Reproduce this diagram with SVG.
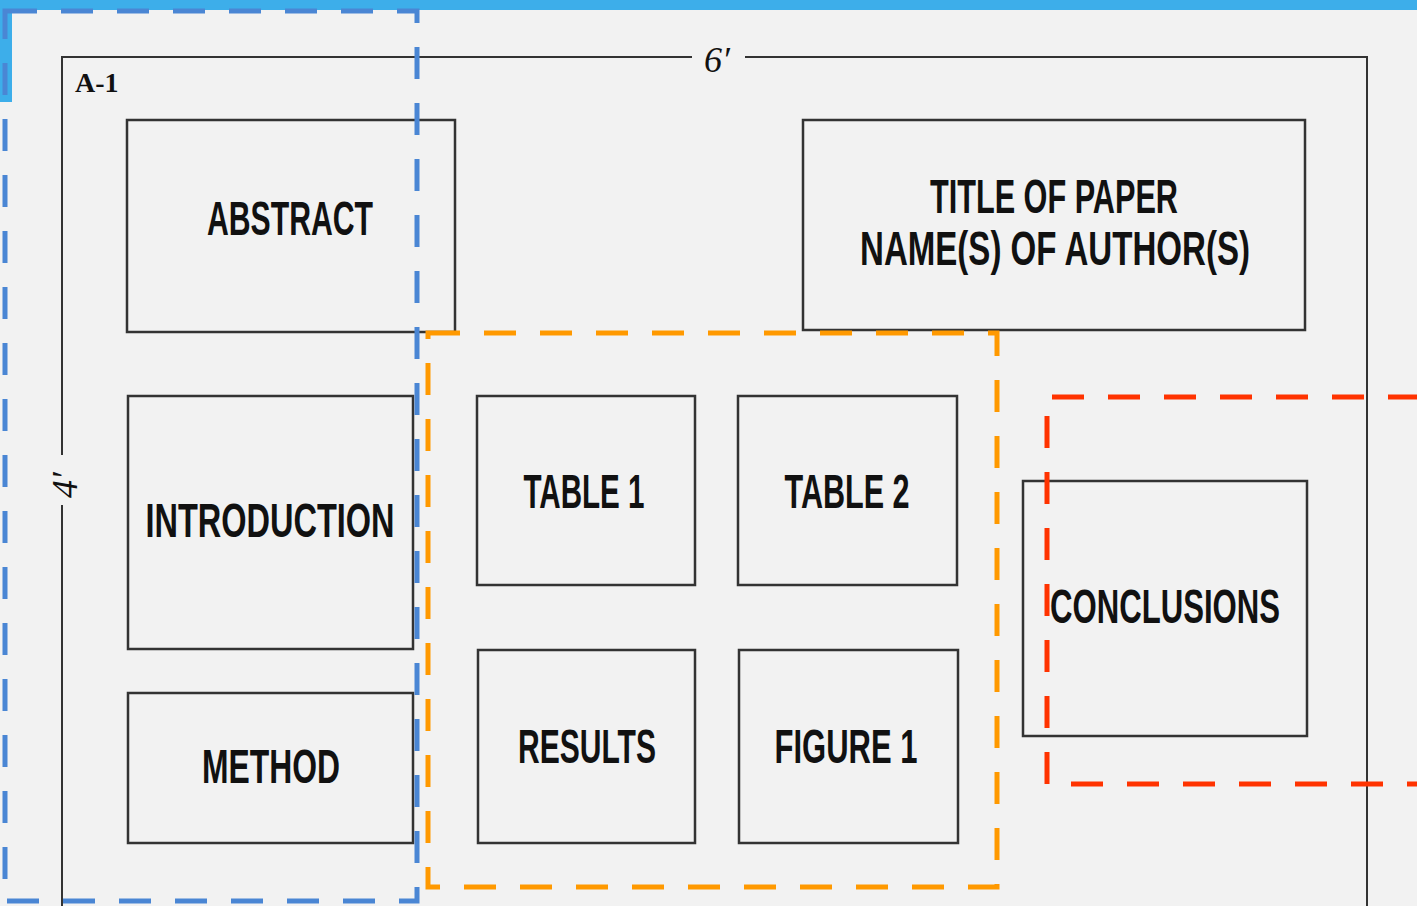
<svg xmlns="http://www.w3.org/2000/svg" width="1417" height="906" viewBox="0 0 1417 906">
<style>
.box{fill:#f2f2f2;stroke:#333;stroke-width:2.5}
.frame{fill:none;stroke:#333;stroke-width:2}
.lbl{font-family:"Liberation Sans",Arial,sans-serif;font-weight:bold;font-size:48px;fill:#111}
.dim{font-family:"Liberation Serif","Times New Roman",serif;font-style:italic;font-size:36px;fill:#111}
.dash{fill:none;stroke-width:5;stroke-dasharray:32 24}
</style>
<rect x="0" y="0" width="1417" height="906" fill="#f2f2f2"/>
<rect x="0" y="0" width="1417" height="10" fill="#3daeea"/>
<rect x="0" y="0" width="12" height="102" fill="#3daeea"/>
<g id="frame">
<path class="frame" d="M62 906 V505 M62 455 V57 H692 M745 57 H1367 V906"/>
<text x="75" y="92" font-family="Liberation Serif,serif" font-weight="bold" font-size="28" fill="#111">A-1</text>
<text class="dim" x="704" y="72">6′</text>
<text class="dim" transform="translate(77,498) rotate(-90)">4′</text>
</g>
<g id="abstract"><rect class="box" x="127" y="120" width="328" height="212"/><text class="lbl" x="290" y="235" text-anchor="middle" textLength="166" lengthAdjust="spacingAndGlyphs">ABSTRACT</text></g>
<g id="title"><rect class="box" x="803" y="120" width="502" height="210"/><text class="lbl" x="1054" y="213" text-anchor="middle" textLength="248" lengthAdjust="spacingAndGlyphs">TITLE OF PAPER</text><text class="lbl" x="1055" y="265" text-anchor="middle" textLength="390" lengthAdjust="spacingAndGlyphs">NAME(S) OF AUTHOR(S)</text></g>
<g id="introduction"><rect class="box" x="128" y="396" width="285" height="253"/><text class="lbl" x="270" y="537" text-anchor="middle" textLength="249" lengthAdjust="spacingAndGlyphs">INTRODUCTION</text></g>
<g id="method"><rect class="box" x="128" y="693" width="285" height="150"/><text class="lbl" x="271" y="783" text-anchor="middle" textLength="138" lengthAdjust="spacingAndGlyphs">METHOD</text></g>
<g id="table1"><rect class="box" x="477" y="396" width="218" height="189"/><text class="lbl" x="584" y="508" text-anchor="middle" textLength="121" lengthAdjust="spacingAndGlyphs">TABLE 1</text></g>
<g id="table2"><rect class="box" x="738" y="396" width="219" height="189"/><text class="lbl" x="847" y="508" text-anchor="middle" textLength="125" lengthAdjust="spacingAndGlyphs">TABLE 2</text></g>
<g id="results"><rect class="box" x="478" y="650" width="217" height="193"/><text class="lbl" x="587" y="763" text-anchor="middle" textLength="138" lengthAdjust="spacingAndGlyphs">RESULTS</text></g>
<g id="figure1"><rect class="box" x="739" y="650" width="219" height="193"/><text class="lbl" x="846" y="763" text-anchor="middle" textLength="143" lengthAdjust="spacingAndGlyphs">FIGURE 1</text></g>
<g id="conclusions"><rect class="box" x="1023" y="481" width="284" height="255"/><text class="lbl" x="1165" y="623" text-anchor="middle" textLength="230" lengthAdjust="spacingAndGlyphs">CONCLUSIONS</text></g>
<g id="connectors">
<rect class="dash" x="5" y="11" width="412" height="890" stroke="#4a86d4"/>
<rect class="dash" x="428" y="333" width="569" height="554" stroke="#ff9900"/>
<path class="dash" d="M1420 397 H1047 V784 H1420" stroke="#ff3300"/>
</g>
</svg>
